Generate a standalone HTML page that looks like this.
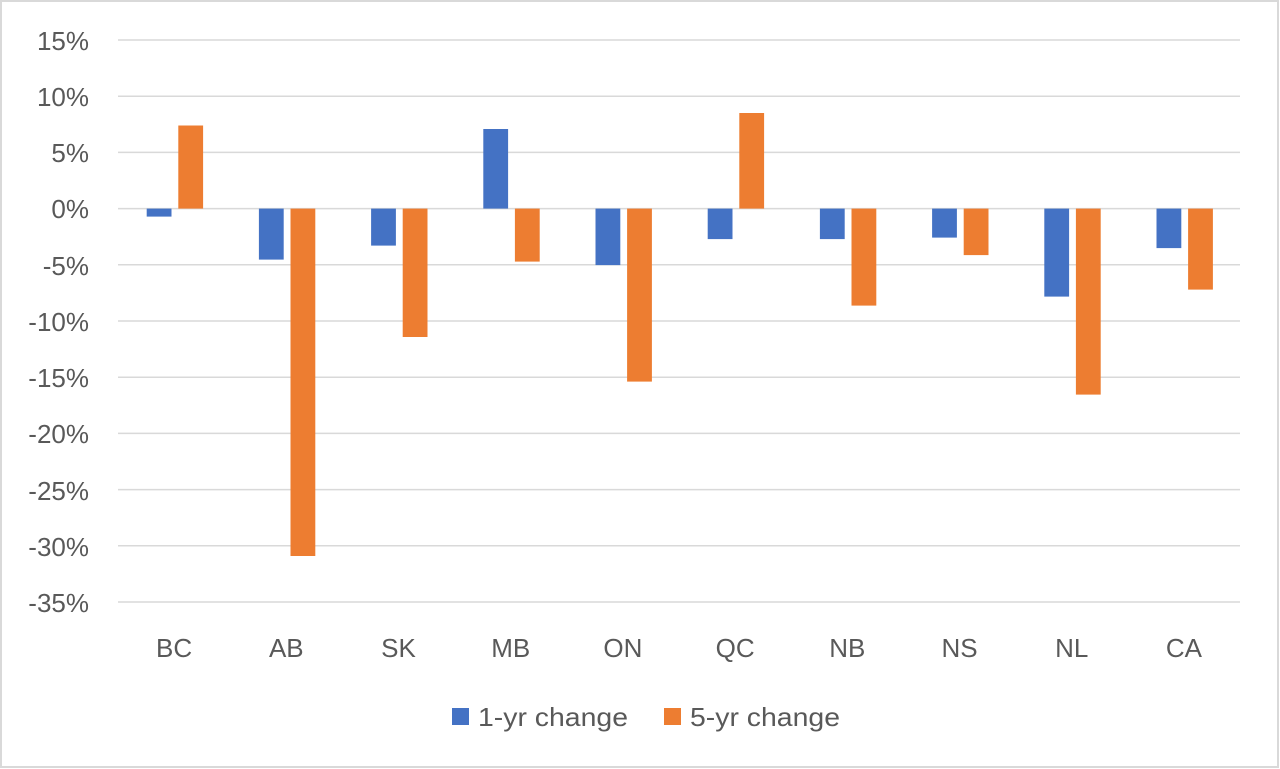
<!DOCTYPE html>
<html><head><meta charset="utf-8"><style>
html,body{margin:0;padding:0;background:#fff;}
svg{display:block;font-family:"Liberation Sans",sans-serif;}
</style></head><body>
<svg width="1280" height="769" viewBox="0 0 1280 769" xmlns="http://www.w3.org/2000/svg">
<rect x="1" y="1" width="1277" height="766" fill="#fff" stroke="#d9d9d9" stroke-width="2"/>
<g stroke="#d9d9d9" stroke-width="1.5">
<line x1="118" x2="1240" y1="40" y2="40"/>
<line x1="118" x2="1240" y1="96.2" y2="96.2"/>
<line x1="118" x2="1240" y1="152.4" y2="152.4"/>
<line x1="118" x2="1240" y1="208.6" y2="208.6"/>
<line x1="118" x2="1240" y1="264.8" y2="264.8"/>
<line x1="118" x2="1240" y1="321" y2="321"/>
<line x1="118" x2="1240" y1="377.2" y2="377.2"/>
<line x1="118" x2="1240" y1="433.4" y2="433.4"/>
<line x1="118" x2="1240" y1="489.6" y2="489.6"/>
<line x1="118" x2="1240" y1="545.8" y2="545.8"/>
<line x1="118" x2="1240" y1="602" y2="602"/>
</g>
<g fill="#595959" font-size="26" text-anchor="end">
<text x="89" y="50">15%</text>
<text x="89" y="106">10%</text>
<text x="89" y="162">5%</text>
<text x="89" y="218">0%</text>
<text x="89" y="275">-5%</text>
<text x="89" y="331">-10%</text>
<text x="89" y="387">-15%</text>
<text x="89" y="443">-20%</text>
<text x="89" y="500">-25%</text>
<text x="89" y="556">-30%</text>
<text x="89" y="612">-35%</text>
</g>
<g fill="#4472c4">
<rect x="146.7" y="208.6" width="24.8" height="8"/>
<rect x="258.9" y="208.6" width="24.8" height="51"/>
<rect x="371.1" y="208.6" width="24.8" height="37"/>
<rect x="483.3" y="129" width="24.8" height="79.6"/>
<rect x="595.5" y="208.6" width="24.8" height="56.5"/>
<rect x="707.7" y="208.6" width="24.8" height="30.5"/>
<rect x="819.9" y="208.6" width="24.8" height="30.5"/>
<rect x="932.1" y="208.6" width="24.8" height="29"/>
<rect x="1044.3" y="208.6" width="24.8" height="88"/>
<rect x="1156.5" y="208.6" width="24.8" height="39.5"/>
</g>
<g fill="#ed7d31">
<rect x="178.3" y="125.5" width="24.8" height="83.1"/>
<rect x="290.5" y="208.6" width="24.8" height="347.4"/>
<rect x="402.7" y="208.6" width="24.8" height="128.4"/>
<rect x="514.9" y="208.6" width="24.8" height="53"/>
<rect x="627.1" y="208.6" width="24.8" height="173"/>
<rect x="739.3" y="113" width="24.8" height="95.6"/>
<rect x="851.5" y="208.6" width="24.8" height="97"/>
<rect x="963.7" y="208.6" width="24.8" height="46.5"/>
<rect x="1075.9" y="208.6" width="24.8" height="186"/>
<rect x="1188.1" y="208.6" width="24.8" height="81"/>
</g>
<g fill="#595959" font-size="26" text-anchor="middle">
<text x="174.1" y="657">BC</text>
<text x="286.3" y="657">AB</text>
<text x="398.5" y="657">SK</text>
<text x="510.7" y="657">MB</text>
<text x="622.9" y="657">ON</text>
<text x="735.1" y="657">QC</text>
<text x="847.3" y="657">NB</text>
<text x="959.5" y="657">NS</text>
<text x="1071.7" y="657">NL</text>
<text x="1183.9" y="657">CA</text>
</g>
<rect x="452" y="708" width="17" height="17" fill="#4472c4"/>
<text x="478" y="726" fill="#595959" font-size="26" textLength="150" lengthAdjust="spacingAndGlyphs">1-yr change</text>
<rect x="664" y="708" width="17" height="17" fill="#ed7d31"/>
<text x="690" y="726" fill="#595959" font-size="26" textLength="150" lengthAdjust="spacingAndGlyphs">5-yr change</text>
</svg>
</body></html>
